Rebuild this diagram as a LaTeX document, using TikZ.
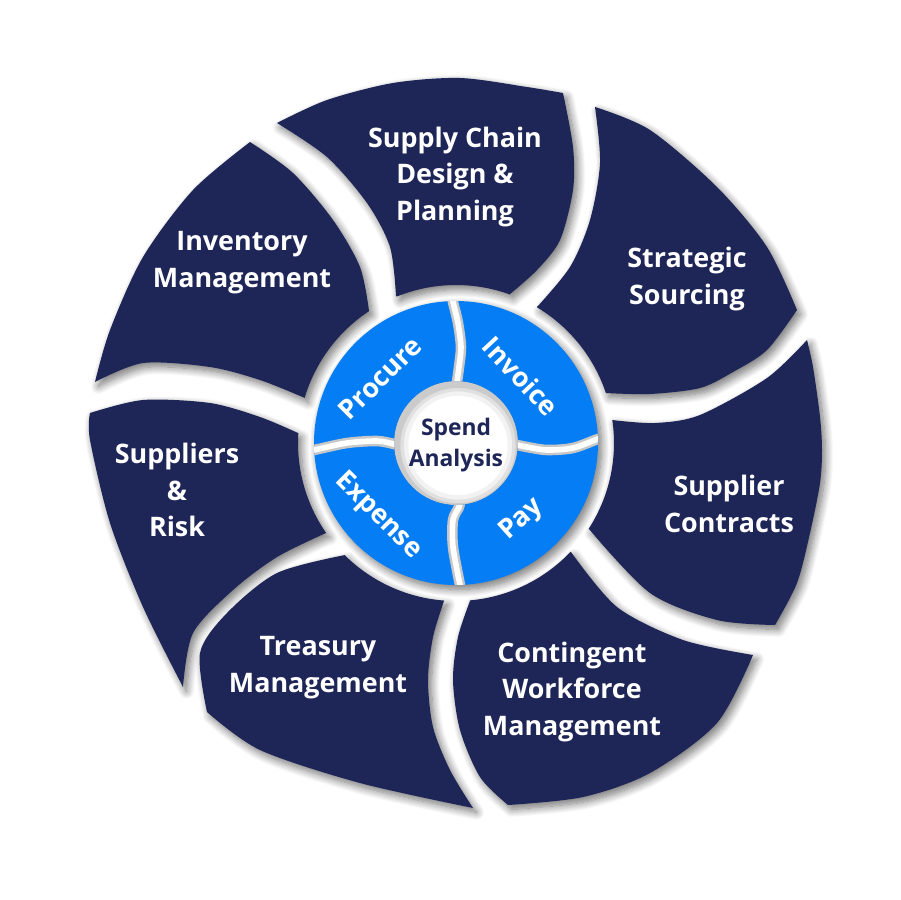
\documentclass[tikz,border=0pt]{standalone}
\usepackage{fontspec}
\setmainfont{Open Sans}
\usetikzlibrary{shadows.blur,calc}
\definecolor{navy}{RGB}{30,37,87}
\definecolor{bluex}{RGB}{5,125,245}
\begin{document}
\begin{tikzpicture}[x=0.02cm,y=-0.02cm,
  seg/.style={fill=navy},
  shad/.style={blur shadow={shadow xshift=2pt,shadow yshift=-2.5pt,shadow blur radius=4.5pt,shadow blur steps=12,shadow opacity=55}},
  lbl/.style={text=white,font=\bfseries\fontsize{15.3}{21}\selectfont,align=center},
  ilbl/.style={text=white,font=\bfseries\fontsize{15.3}{18}\selectfont,inner sep=0pt},
  gapg/.style={draw=black!22,line width=6pt,line cap=butt},
  gapw/.style={draw=white,line width=3.2pt,line cap=butt},
]
\useasboundingbox (0,0) rectangle (900,900);
\coordinate (C) at (456,443);
\def\segA{(C) ++(-112:158) arc[start angle=-112,end angle=-70,radius=158]
 -- plot[smooth] coordinates {(510,294) (537,270) (560,240) (573,190) (573,147) (563,93)}
 -- plot[smooth] coordinates {(563,93) (527,87) (460,78) (393,83) (327,100) (277,123)}
 -- plot[smooth] coordinates {(277,123) (327,157) (367,203) (390,247) (396,296)} -- cycle}
\def\segB{(C) ++(-59:158) arc[start angle=-59,end angle=-18.5,radius=158]
 -- plot[smooth] coordinates {(606,393) (650,394) (700,388) (733,372) (767,350) (797,310)}
 -- plot[smooth] coordinates {(797,310) (767,247) (717,187) (650,130) (595,107)}
 -- plot[smooth] coordinates {(595,107) (600,163) (590,220) (570,267) (537,307)} -- cycle}
\def\segC{(C) ++(-8.3:158) arc[start angle=-8.3,end angle=33,radius=158]
 -- plot[smooth] coordinates {(589,529) (650,593) (717,620) (775,625)}
 -- plot[smooth] coordinates {(775,625) (797,583) (810,533) (820,483) (822,450) (820,417) (813,367) (807,340)}
 -- plot[smooth] coordinates {(807,340) (767,378) (700,415) (655,423) (612,420)} -- cycle}
\def\segD{(C) ++(43.5:158) arc[start angle=43.5,end angle=85,radius=158]
 -- plot[smooth] coordinates {(470,601) (458,637) (453,680) (460,730) (480,777) (508,805)}
 -- plot[smooth] coordinates {(508,805) (583,797) (650,773) (717,723) (753,655)}
 -- plot[smooth] coordinates {(753,655) (683,640) (617,607) (571,552)} -- cycle}
\def\segE{(C) ++(94.3:158) arc[start angle=94.3,end angle=134.7,radius=158]
 -- plot[smooth] coordinates {(345,555) (277,573) (227,613) (200,653) (207,712)}
 -- plot[smooth] coordinates {(207,712) (260,750) (360,783) (473,808)}
 -- plot[smooth] coordinates {(473,808) (450,770) (433,727) (428,680) (433,637) (444,601)} -- cycle}
\def\segF{(C) ++(145.1:158) arc[start angle=145.1,end angle=183.6,radius=158]
 -- plot[smooth] coordinates {(298,433) (260,417) (210,403) (143,400) (90,413)}
 -- plot[smooth] coordinates {(90,413) (90,440) (110,523) (143,607) (183,687)}
 -- plot[smooth] coordinates {(183,687) (193,633) (233,590) (277,557) (326,533)} -- cycle}
\def\segG{(C) ++(196.6:158) arc[start angle=196.6,end angle=236.5,radius=158]
 -- plot[smooth] coordinates {(369,311) (360,267) (333,220) (293,173) (250,142)}
 -- plot[smooth] coordinates {(250,142) (193,190) (143,257) (110,330) (95,382)}
 -- plot[smooth] coordinates {(95,382) (143,363) (210,367) (260,380) (305,398)} -- cycle}
% shadows
\path[shad] \segA; \path[shad] \segB; \path[shad] \segC; \path[shad] \segD;
\path[shad] \segE; \path[shad] \segF; \path[shad] \segG;
% segments
\fill[seg] \segA; \fill[seg] \segB; \fill[seg] \segC; \fill[seg] \segD;
\fill[seg] \segE; \fill[seg] \segF; \fill[seg] \segG;
% blue ring
\path[shad] (C) circle[radius=142];
\fill[white] (C) circle[radius=62];
\begin{scope}
\clip (C) circle[radius=62];
\foreach \w/\o in {14/0.05,9/0.07,5/0.09}{
  \draw[black,opacity=\o,line width=\w pt] ($(C)+(2,2.5)$) circle[radius=62];
}
\end{scope}
\fill[bluex,even odd rule] (C) circle[radius=142] (C) circle[radius=62];
\begin{scope}[even odd rule]
\clip (C) circle[radius=142] (C) circle[radius=62];
\foreach \st in {gapg,gapw}{
 \draw[\st] plot[smooth] coordinates {(451,292) (453,302) (458,323) (461,347) (459,367) (457,382) (456,392)};
 \draw[\st] plot[smooth] coordinates {(608,437) (598,439) (573,448) (547,450) (527,447) (517,445) (508,444)};
 \draw[\st] plot[smooth] coordinates {(462,595) (460,585) (453,547) (453,520) (459,507) (461,498)};
 \draw[\st] plot[smooth] coordinates {(304,452) (314,450) (347,443) (377,441) (394,444) (402,446)};
}
\end{scope}
% inner labels
\node[ilbl,rotate=45] (pr) at (380,378) {Procure};
\node[ilbl,rotate=-47] (iv) at (521,376) {Invoice};
\node[ilbl,rotate=-45] (ex) at (378,516) {Expense};
\node[ilbl,rotate=42] (py) at (522,520) {Pay};
\node[text=navy,font=\bfseries\fontsize{13}{18}\selectfont,align=center] (ctr) at (456,445) {Spend\\Analysis};
% outer labels
\node[lbl] (sc) at (455,177) {Supply Chain\\Design \&\\Planning};
\node[lbl] (im) at (242,263) {Inventory\\Management};
\node[lbl] (ss) at (687,279) {Strategic\\Sourcing};
\node[lbl] (sr) at (177,490) {Suppliers\\\&\\Risk};
\node[lbl] (ct) at (729,504) {Supplier\\Contracts};
\node[lbl] (tm) at (318,668) {Treasury\\Management};
\node[lbl] (cw) at (572,692) {Contingent\\Workforce\\Management};
\end{tikzpicture}
\end{document}
